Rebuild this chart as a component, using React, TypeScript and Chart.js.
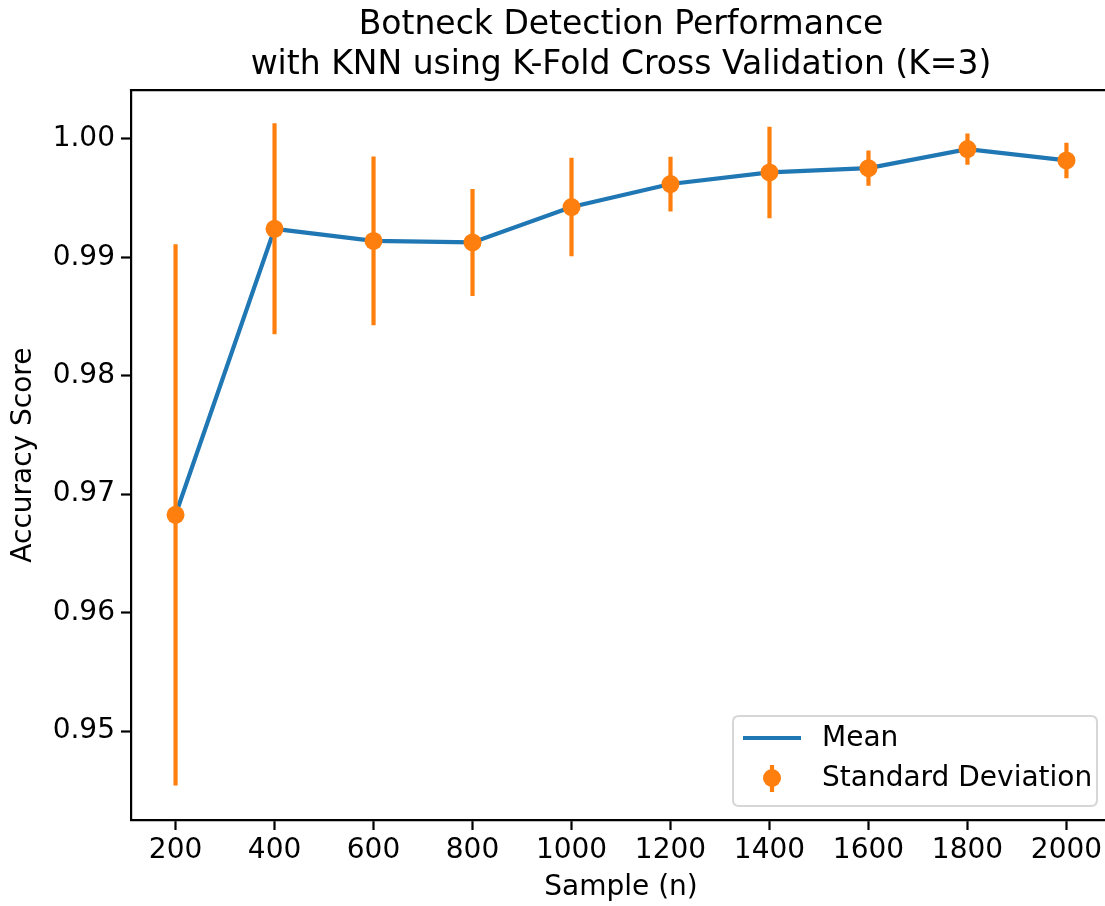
import React, { useEffect, useRef } from "react";
import { Chart, registerables } from "chart.js";

Chart.register(...registerables);

const titleLines = [
  "Botneck Detection Performance",
  "with KNN using K-Fold Cross Validation (K=3)",
];
const xAxisLabel = "Sample (n)";
const yAxisLabel = "Accuracy Score";
const meanLabel = "Mean";
const stdLabel = "Standard Deviation";

const samples = [200, 400, 600, 800, 1000, 1200, 1400, 1600, 1800, 2000];
const meanScores = [0.96826, 0.9924, 0.99138, 0.99125, 0.99424, 0.99618, 0.99716, 0.99752, 0.99913, 0.99817];
const stdScores = [0.02284, 0.0089, 0.00713, 0.00452, 0.00416, 0.00231, 0.00386, 0.00148, 0.00132, 0.0015];
const xTicks = [200, 400, 600, 800, 1000, 1200, 1400, 1600, 1800, 2000];
const yTicks = [0.95, 0.96, 0.97, 0.98, 0.99, 1.0];

const BLUE = "#1f77b4";
const ORANGE = "#ff7f0e";
const FONT = "'DejaVu Sans', 'Liberation Sans', sans-serif";

const errorBarPlugin = {
  id: "errorBars",
  afterDatasetDraw(chart: any, args: any) {
    if (args.index !== 0) return;
    const { ctx, chartArea, scales } = chart;
    const x = scales.x;
    const y = scales.y;
    ctx.save();
    ctx.beginPath();
    ctx.rect(chartArea.left, chartArea.top, chartArea.right - chartArea.left, chartArea.bottom - chartArea.top);
    ctx.clip();
    ctx.strokeStyle = ORANGE;
    ctx.lineWidth = 4.2;
    ctx.lineCap = "butt";
    ctx.beginPath();
    samples.forEach((s, i) => {
      const px = x.getPixelForValue(s);
      ctx.moveTo(px, y.getPixelForValue(meanScores[i] + stdScores[i]));
      ctx.lineTo(px, y.getPixelForValue(meanScores[i] - stdScores[i]));
    });
    ctx.stroke();
    ctx.restore();
  },
};

const framePlugin = {
  id: "frameAndLegend",
  afterDraw(chart: any) {
    const { ctx, chartArea } = chart;
    ctx.save();
    // top and right spines
    ctx.strokeStyle = "#000";
    ctx.lineWidth = 2.2;
    ctx.beginPath();
    ctx.moveTo(chartArea.left - 1.1, chartArea.top);
    ctx.lineTo(chartArea.right + 1.1, chartArea.top);
    ctx.moveTo(chartArea.right, chartArea.top);
    ctx.lineTo(chartArea.right, chartArea.bottom);
    ctx.stroke();

    // legend
    const w = 364;
    const h = 90;
    const right = chartArea.right - 14;
    const bottom = chartArea.bottom - 14;
    const left = right - w;
    const top = bottom - h;
    const r = 6;
    ctx.beginPath();
    ctx.moveTo(left + r, top);
    ctx.lineTo(left + w - r, top);
    ctx.quadraticCurveTo(left + w, top, left + w, top + r);
    ctx.lineTo(left + w, top + h - r);
    ctx.quadraticCurveTo(left + w, top + h, left + w - r, top + h);
    ctx.lineTo(left + r, top + h);
    ctx.quadraticCurveTo(left, top + h, left, top + h - r);
    ctx.lineTo(left, top + r);
    ctx.quadraticCurveTo(left, top, left + r, top);
    ctx.closePath();
    ctx.fillStyle = "rgba(255,255,255,0.8)";
    ctx.fill();
    ctx.strokeStyle = "rgba(204,204,204,0.8)";
    ctx.lineWidth = 2;
    ctx.stroke();

    // Mean entry
    ctx.strokeStyle = BLUE;
    ctx.lineWidth = 4.2;
    ctx.beginPath();
    ctx.moveTo(left + 10, top + 22);
    ctx.lineTo(left + 68, top + 22);
    ctx.stroke();

    // Std entry
    const mx = left + 39;
    const my = top + 62;
    ctx.strokeStyle = ORANGE;
    ctx.beginPath();
    ctx.moveTo(mx, my - 13);
    ctx.lineTo(mx, my + 14);
    ctx.stroke();
    ctx.fillStyle = ORANGE;
    ctx.beginPath();
    ctx.arc(mx, my, 9, 0, Math.PI * 2);
    ctx.fill();

    ctx.fillStyle = "#000";
    ctx.font = `28px ${FONT}`;
    ctx.textBaseline = "middle";
    ctx.textAlign = "left";
    ctx.fillText(meanLabel, left + 89, top + 23);
    ctx.fillText(stdLabel, left + 89, top + 63);
    ctx.restore();
  },
};

export default function App() {
  const canvasRef = useRef<HTMLCanvasElement | null>(null);

  useEffect(() => {
    if (!canvasRef.current) return;
    const chart = new Chart(canvasRef.current, {
      type: "line",
      data: {
        datasets: [
          {
            label: meanLabel,
            data: samples.map((s, i) => ({ x: s, y: meanScores[i] })),
            borderColor: BLUE,
            backgroundColor: BLUE,
            borderWidth: 4.2,
            pointRadius: 0,
            tension: 0,
            fill: false,
            order: 2,
          },
          {
            label: stdLabel,
            data: samples.map((s, i) => ({ x: s, y: meanScores[i] })),
            showLine: false,
            borderColor: ORANGE,
            backgroundColor: ORANGE,
            pointRadius: 9,
            pointBorderWidth: 0,
            order: 1,
          },
        ],
      },
      options: {
        animation: false,
        responsive: false,
        maintainAspectRatio: false,
        layout: { padding: 0 },
        plugins: {
          legend: { display: false },
          tooltip: { enabled: false },
          title: {
            display: true,
            text: titleLines,
            color: "#000",
            fullSize: false,
            font: { family: FONT, size: 33, weight: "normal", lineHeight: 1.2 },
            padding: { top: 6, bottom: 5 },
          },
        },
        scales: {
          x: {
            type: "linear",
            min: 110,
            max: 2090,
            afterFit: (s: any) => {
              s.height = 86;
            },
            afterBuildTicks: (s: any) => {
              s.ticks = xTicks.map((v) => ({ value: v }));
            },
            ticks: {
              color: "#000",
              font: { family: FONT, size: 28 },
              padding: 4,
              maxRotation: 0,
              autoSkip: false,
              callback: (v: any) => String(v),
            },
            grid: {
              drawOnChartArea: false,
              drawTicks: true,
              tickLength: 10,
              tickWidth: 2.2,
              tickColor: "#000",
            },
            border: { display: true, color: "#000", width: 2.2 },
            title: {
              display: true,
              text: xAxisLabel,
              color: "#000",
              font: { family: FONT, size: 28, lineHeight: 1.2 },
              padding: { top: 0, bottom: 1 },
            },
          },
          y: {
            type: "linear",
            min: 0.9425,
            max: 1.0041,
            afterFit: (s: any) => {
              s.width = 131;
            },
            afterBuildTicks: (s: any) => {
              s.ticks = yTicks.map((v) => ({ value: v }));
            },
            ticks: {
              color: "#000",
              font: { family: FONT, size: 28 },
              padding: 6,
              autoSkip: false,
              callback: (v: any) => Number(v).toFixed(2),
            },
            grid: {
              drawOnChartArea: false,
              drawTicks: true,
              tickLength: 10,
              tickWidth: 2.2,
              tickColor: "#000",
            },
            border: { display: true, color: "#000", width: 2.2 },
            title: {
              display: true,
              text: yAxisLabel,
              color: "#000",
              font: { family: FONT, size: 28, lineHeight: 1.2 },
              padding: { top: 7, bottom: 0 },
            },
          },
        },
      },
      plugins: [errorBarPlugin, framePlugin],
    });
    return () => chart.destroy();
  }, []);

  return (
    <div
      style={{
        position: "fixed",
        left: 0,
        top: 0,
        width: 1105,
        height: 906,
        overflow: "hidden",
        background: "#fff",
      }}
    >
      <canvas ref={canvasRef} width={1120} height={906} style={{ display: "block" }} />
    </div>
  );
}
